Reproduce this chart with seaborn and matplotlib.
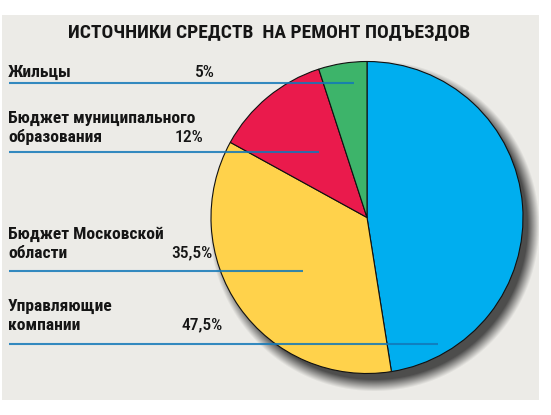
import numpy as np
import matplotlib
matplotlib.use("Agg")
import matplotlib.pyplot as plt
from matplotlib.patches import Rectangle
import seaborn as sns

# -----------------------
# Data
# -----------------------
TITLE = "ИСТОЧНИКИ СРЕДСТВ  НА РЕМОНТ ПОДЪЕЗДОВ"
sources = ["Управляющие\nкомпании", "Бюджет Московской\nобласти",
           "Бюджет муниципального\nобразования", "Жильцы"]
shares = [47.5, 35.5, 12.0, 5.0]
share_labels = ["47,5%", "35,5%", "12%", "5%"]
slice_colors = ["#00aeef", "#ffd24b", "#ea1a4c", "#3db46a"]

# -----------------------
# Layout (pixels, origin top-left)
# -----------------------
W, H = 551, 415
CX, CY, R = 367, 217.5, 156
label_base = [311, 239, 123, 77]     # baseline of first label line
pct_right = [223, 212, 203, 215]
line_y = [344, 271, 152, 83]
line_end = [438, 303, 319, 354]
LINE_GAP = 18.5

sns.set_theme(style="white")
plt.rcParams["font.family"] = ["Roboto Condensed", "DejaVu Sans"]

fig = plt.figure(figsize=(W / 100, H / 100), dpi=100)
fig.patch.set_facecolor("white")

# background panel
bg = fig.add_axes([0, 0, 1, 1], label="bg")
bg.set_xlim(0, W)
bg.set_ylim(H, 0)
bg.axis("off")
bg.add_patch(Rectangle((2, 15), 537, 385, facecolor="#ecebe7", edgecolor="none"))

# soft drop shadow as an image behind the pie
x0, x1 = CX - R - 10, CX + R + 30
y0, y1 = CY - R - 10, CY + R + 30
gx, gy = np.meshgrid(np.arange(x0, x1), np.arange(y0, y1))
dist = np.hypot(gx - (CX + 7), gy - (CY + 8))
shade = np.zeros(gx.shape + (4,))
shade[..., :3] = 0.19
shade[..., 3] = np.clip((R + 9 - dist) / 12, 0, 1) * 0.85
bg.imshow(shade, extent=(x0, x1, y1, y0), origin="upper", aspect="auto",
          interpolation="bilinear", zorder=2)
bg.set_xlim(0, W)
bg.set_ylim(H, 0)

pie_rect = [(CX - R) / W, (H - CY - R) / H, 2 * R / W, 2 * R / H]

# pie
pax = fig.add_axes(pie_rect, label="pie")
wedges, _ = pax.pie(shares, colors=slice_colors, startangle=90, counterclock=False,
                    radius=1, wedgeprops=dict(edgecolor="#111111", linewidth=0.8))
for w in wedges:
    w.set_clip_on(False)
pax.set_xlim(-1, 1)
pax.set_ylim(-1, 1)
pax.axis("off")

# overlay: leader lines and texts
ov = fig.add_axes([0, 0, 1, 1], label="overlay")
ov.set_xlim(0, W)
ov.set_ylim(H, 0)
ov.axis("off")

ov.text(W / 2 - 6, 37, TITLE, ha="center", va="baseline", fontsize=14,
        fontweight="bold", color="#151515")

for i, name in enumerate(sources):
    parts = name.split("\n")
    for j, part in enumerate(parts):
        ov.text(8, label_base[i] + j * LINE_GAP, part, ha="left", va="baseline",
                fontsize=12.6, fontweight="bold", color="#151515")
    ov.text(pct_right[i], label_base[i] + (len(parts) - 1) * LINE_GAP, share_labels[i],
            ha="right", va="baseline", fontsize=12.6, fontweight="medium", color="#151515")
    ov.plot([9, line_end[i]], [line_y[i], line_y[i]], color="#1278b8", lw=1.5,
            alpha=0.85, solid_capstyle="butt")

fig.savefig("out.png", dpi=100)
